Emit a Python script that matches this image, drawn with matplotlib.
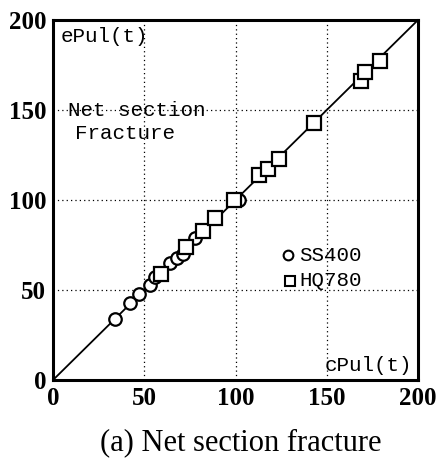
import matplotlib
matplotlib.use("Agg")
import matplotlib.pyplot as plt

# Data
ss400_x = [34, 42, 47, 53, 56, 64, 68, 71, 78, 102]
ss400_y = [34, 43, 48, 53, 57, 65, 68, 70, 79, 100]
hq780_x = [59, 73, 82, 89, 99, 113, 118, 124, 143, 169, 171, 179]
hq780_y = [59, 74, 83, 90, 100, 114, 117, 123, 143, 166, 171, 177]
ticks = [0, 50, 100, 150, 200]
tick_labels = ["0", "50", "100", "150", "200"]
series_names = ["SS400", "HQ780"]

fig = plt.figure(figsize=(4.36, 4.62), dpi=100)
ax = fig.add_axes([0.1216, 0.1775, 0.8371, 0.7792])
ax.set_xlim(0, 200)
ax.set_ylim(0, 200)

ax.plot([0, 200], [0, 200], color="black", lw=1.3, zorder=2)
ax.plot(ss400_x, ss400_y, ls="none", marker="o", ms=9, mfc="white",
        mec="black", mew=1.6, zorder=3)
ax.plot(hq780_x, hq780_y, ls="none", marker="s", ms=9.5, mfc="white",
        mec="black", mew=1.6, zorder=4)

ax.set_xticks(ticks)
ax.set_yticks(ticks)
tick_font = dict(family="Liberation Serif", size=18, weight="bold")
ax.set_xticklabels(tick_labels, fontdict=tick_font)
ax.set_yticklabels(tick_labels, fontdict=tick_font)
ax.tick_params(length=0, pad=5)
ax.grid(True, color="black", ls=(0, (1, 2.5)), lw=0.9)
for s in ax.spines.values():
    s.set_linewidth(2.2)

mono = dict(family="Liberation Mono", size=15)
ax.text(4, 196, "ePul(t)", ha="left", va="top", **mono)
ax.text(8, 150, "Net section", ha="left", va="center", **mono)
ax.text(12, 137, "Fracture", ha="left", va="center", **mono)
ax.text(197, 3, "cPul(t)", ha="right", va="bottom", **mono)

# Legend (manual, in axes coordinates)
ax.plot([0.644], [0.347], transform=ax.transAxes, ls="none", marker="o",
        ms=7, mfc="white", mec="black", mew=1.5, clip_on=False)
ax.plot([0.648], [0.275], transform=ax.transAxes, ls="none", marker="s",
        ms=7.5, mfc="white", mec="black", mew=1.5, clip_on=False)
ax.text(0.674, 0.347, series_names[0], transform=ax.transAxes,
        ha="left", va="center", **mono)
ax.text(0.674, 0.275, series_names[1], transform=ax.transAxes,
        ha="left", va="center", **mono)

fig.text(0.553, 0.041, "(a) Net section fracture", ha="center", va="center",
         family="Liberation Serif", size=22)

fig.savefig("out.png", dpi=100)
